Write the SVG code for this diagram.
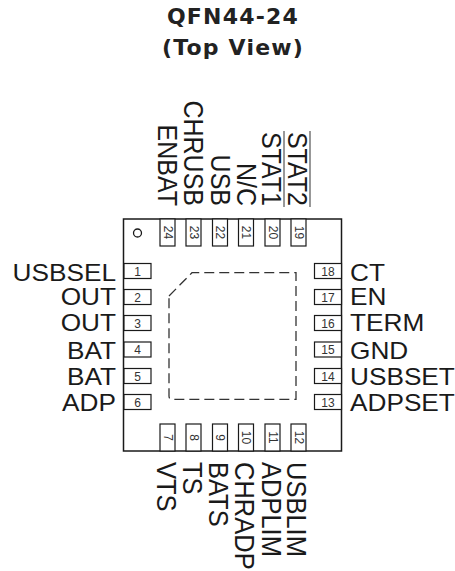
<svg xmlns="http://www.w3.org/2000/svg" width="455" height="571" viewBox="0 0 455 571">
<style>
.pkg{fill:#fff;stroke:#1a1a1a;stroke-width:1.5}
.pin{fill:#fff;stroke:#1a1a1a;stroke-width:1.2}
.pad{fill:none;stroke:#333;stroke-width:1.3;stroke-dasharray:10 5}
.lbl{font-family:"Liberation Sans",Arial,sans-serif;font-size:24.5px;fill:#1a1a1a}
.top{font-size:25px}
.bot{font-size:25.5px}
.num{font-family:"Liberation Sans",Arial,sans-serif;font-size:12px;fill:#333;text-anchor:middle}
.e{text-anchor:end}
.title{font-family:"DejaVu Sans",sans-serif;font-size:22px;font-weight:bold;letter-spacing:1.2px;fill:#222;text-anchor:middle}
.ov{stroke:#333;stroke-width:1}
</style>
<rect width="455" height="571" fill="#fff"/>
<g id="title"><text class="title" x="233" y="24">QFN44-24</text><text class="title" x="233" y="55">(Top View)</text></g>
<g id="package"><rect class="pkg" x="123.5" y="219" width="218" height="232"/><circle cx="137.5" cy="233" r="4" fill="none" stroke="#1a1a1a" stroke-width="1.3"/><path class="pad" d="M169 296L192 272.7H296V399.3H172Q169 399.3 169 396Z"/></g>
<g id="pin1"><rect class="pin" x="124" y="263.5" width="27" height="15"/><text class="num" x="137.5" y="275.5">1</text><text class="lbl e" transform="translate(116 281) scale(1.07 1)">USBSEL</text></g>
<g id="pin2"><rect class="pin" x="124" y="289.5" width="27" height="15"/><text class="num" x="137.5" y="301.5">2</text><text class="lbl e" transform="translate(116 305) scale(1.07 1)">OUT</text></g>
<g id="pin3"><rect class="pin" x="124" y="315.5" width="27" height="15"/><text class="num" x="137.5" y="327.5">3</text><text class="lbl e" transform="translate(116 331) scale(1.07 1)">OUT</text></g>
<g id="pin4"><rect class="pin" x="124" y="342" width="27" height="15"/><text class="num" x="137.5" y="354">4</text><text class="lbl e" transform="translate(116 359) scale(1.07 1)">BAT</text></g>
<g id="pin5"><rect class="pin" x="124" y="368.5" width="27" height="15"/><text class="num" x="137.5" y="380.5">5</text><text class="lbl e" transform="translate(116 385) scale(1.07 1)">BAT</text></g>
<g id="pin6"><rect class="pin" x="124" y="394.5" width="27" height="15"/><text class="num" x="137.5" y="406.5">6</text><text class="lbl e" transform="translate(116 411) scale(1.07 1)">ADP</text></g>
<g id="pin18"><rect class="pin" x="314.5" y="263.5" width="27" height="15"/><text class="num" x="328" y="275.5">18</text><text class="lbl" transform="translate(350 281) scale(1.07 1)">CT</text></g>
<g id="pin17"><rect class="pin" x="314.5" y="289.5" width="27" height="15"/><text class="num" x="328" y="301.5">17</text><text class="lbl" transform="translate(350 305) scale(1.07 1)">EN</text></g>
<g id="pin16"><rect class="pin" x="314.5" y="315.5" width="27" height="15"/><text class="num" x="328" y="327.5">16</text><text class="lbl" transform="translate(350 331) scale(1.07 1)">TERM</text></g>
<g id="pin15"><rect class="pin" x="314.5" y="342" width="27" height="15"/><text class="num" x="328" y="354">15</text><text class="lbl" transform="translate(350 359) scale(1.07 1)">GND</text></g>
<g id="pin14"><rect class="pin" x="314.5" y="368.5" width="27" height="15"/><text class="num" x="328" y="380.5">14</text><text class="lbl" transform="translate(350 385) scale(1.07 1)">USBSET</text></g>
<g id="pin13"><rect class="pin" x="314.5" y="394.5" width="27" height="15"/><text class="num" x="328" y="406.5">13</text><text class="lbl" transform="translate(350 411) scale(1.07 1)">ADPSET</text></g>
<g id="pin24"><rect class="pin" x="160" y="219" width="15" height="27"/><text class="num" transform="translate(163.5 232.5) rotate(90)">24</text><text class="lbl top e" transform="translate(158 206) scale(1.12 1) rotate(90)">ENBAT</text></g>
<g id="pin23"><rect class="pin" x="186" y="219" width="15" height="27"/><text class="num" transform="translate(189.5 232.5) rotate(90)">23</text><text class="lbl top e" transform="translate(184 206) scale(1.12 1) rotate(90)">CHRUSB</text></g>
<g id="pin22"><rect class="pin" x="212.5" y="219" width="15" height="27"/><text class="num" transform="translate(216 232.5) rotate(90)">22</text><text class="lbl top e" transform="translate(210.5 206) scale(1.12 1) rotate(90)">USB</text></g>
<g id="pin21"><rect class="pin" x="238.5" y="219" width="15" height="27"/><text class="num" transform="translate(242 232.5) rotate(90)">21</text><text class="lbl top e" transform="translate(237 206) scale(1.12 1) rotate(90)">N/C</text></g>
<g id="pin20"><rect class="pin" x="265" y="219" width="15" height="27"/><text class="num" transform="translate(268.5 232.5) rotate(90)">20</text><text class="lbl top e" transform="translate(262 206) scale(1.12 1) rotate(90)">STAT1</text><line class="ov" x1="284" y1="131" x2="284" y2="207"/></g>
<g id="pin19"><rect class="pin" x="291" y="219" width="15" height="27"/><text class="num" transform="translate(294.5 232.5) rotate(90)">19</text><text class="lbl top e" transform="translate(288 206) scale(1.12 1) rotate(90)">STAT2</text><line class="ov" x1="310" y1="131" x2="310" y2="207"/></g>
<g id="pin7"><rect class="pin" x="160" y="424" width="15" height="27"/><text class="num" transform="translate(163.5 437.5) rotate(90)">7</text><text class="lbl bot" transform="translate(157 462) scale(1.12 1) rotate(90)">VTS</text></g>
<g id="pin8"><rect class="pin" x="186" y="424" width="15" height="27"/><text class="num" transform="translate(189.5 437.5) rotate(90)">8</text><text class="lbl bot" transform="translate(183 462) scale(1.12 1) rotate(90)">TS</text></g>
<g id="pin9"><rect class="pin" x="212.5" y="424" width="15" height="27"/><text class="num" transform="translate(216 437.5) rotate(90)">9</text><text class="lbl bot" transform="translate(209 462) scale(1.12 1) rotate(90)">BATS</text></g>
<g id="pin10"><rect class="pin" x="238.5" y="424" width="15" height="27"/><text class="num" transform="translate(242 437.5) rotate(90)">10</text><text class="lbl bot" transform="translate(235 462) scale(1.12 1) rotate(90)">CHRADP</text></g>
<g id="pin11"><rect class="pin" x="265" y="424" width="15" height="27"/><text class="num" transform="translate(268.5 437.5) rotate(90)">11</text><text class="lbl bot" transform="translate(262 462) scale(1.12 1) rotate(90)">ADPLIM</text></g>
<g id="pin12"><rect class="pin" x="291" y="424" width="15" height="27"/><text class="num" transform="translate(294.5 437.5) rotate(90)">12</text><text class="lbl bot" transform="translate(287 462) scale(1.12 1) rotate(90)">USBLIM</text></g>
<g id="connectors"/>
</svg>
